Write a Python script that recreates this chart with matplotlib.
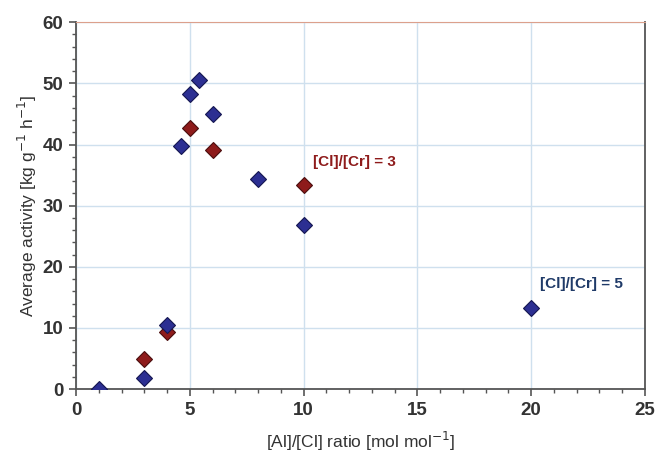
import numpy as np
import matplotlib.pyplot as plt
from matplotlib.ticker import MultipleLocator

# [Cl]/[Cr] = 5 series (blue)
blue_x = [1, 3, 4, 4.6, 5, 5.4, 6, 8, 10, 20]
blue_y = [0.0, 1.9, 10.5, 39.8, 48.2, 50.6, 45.0, 34.4, 26.9, 13.3]

# [Cl]/[Cr] = 3 series (red)
red_x = [3, 4, 5, 6, 10]
red_y = [4.9, 9.3, 42.7, 39.1, 33.3]

x_ticks = [0, 5, 10, 15, 20, 25]
y_ticks = [0, 10, 20, 30, 40, 50, 60]

plt.rcParams['font.family'] = ['Liberation Sans', 'DejaVu Sans']

fig = plt.figure(figsize=(6.56, 4.53), dpi=100)
ax = fig.add_axes([0.116, 0.141, 0.867, 0.810])

# Grid in light blue
ax.grid(True, which='major', color='#cfe0ee', lw=1.0, zorder=0)
ax.set_axisbelow(True)

ax.plot(red_x, red_y, 'D', ms=8.5, color='#8e1b1b', mec='#4a0e0e', mew=0.8, zorder=3)
ax.plot(blue_x, blue_y, 'D', ms=8.5, color='#2c2f92', mec='#141650', mew=0.8, zorder=4)

# Series annotations
ax.text(10.4, 36.0, '[Cl]/[Cr] = 3', color='#8e1b1b', fontsize=11,
        fontweight='bold', ha='left', va='bottom')
ax.text(20.4, 16.1, '[Cl]/[Cr] = 5', color='#1f3a68', fontsize=11,
        fontweight='bold', ha='left', va='bottom')

ax.set_xlim(0, 25)
ax.set_ylim(0, 60)
ax.set_xticks(x_ticks)
ax.set_yticks(y_ticks)
ax.xaxis.set_minor_locator(MultipleLocator(1))
ax.yaxis.set_minor_locator(MultipleLocator(2))

ax.tick_params(which='major', direction='out', length=5, width=1.2, color='#555555',
               labelsize=13.5, labelcolor='#333333', pad=4)
ax.tick_params(which='minor', direction='out', length=3, width=1.0, color='#555555')
for lbl in ax.get_xticklabels() + ax.get_yticklabels():
    lbl.set_fontweight('bold')

for side in ['left', 'bottom', 'right']:
    ax.spines[side].set_color('#555555')
    ax.spines[side].set_linewidth(1.3)
ax.spines['top'].set_color('#dca08c')
ax.spines['top'].set_linewidth(0.8)

ax.set_xlabel(r'[Al]/[Cl] ratio [mol mol$^{-1}$]', fontsize=12.5, color='#333333', labelpad=8)
ax.set_ylabel(r'Average activity [kg g$^{-1}$ h$^{-1}$]', fontsize=12.5, color='#333333', labelpad=3)

plt.savefig('out.png', dpi=100)
